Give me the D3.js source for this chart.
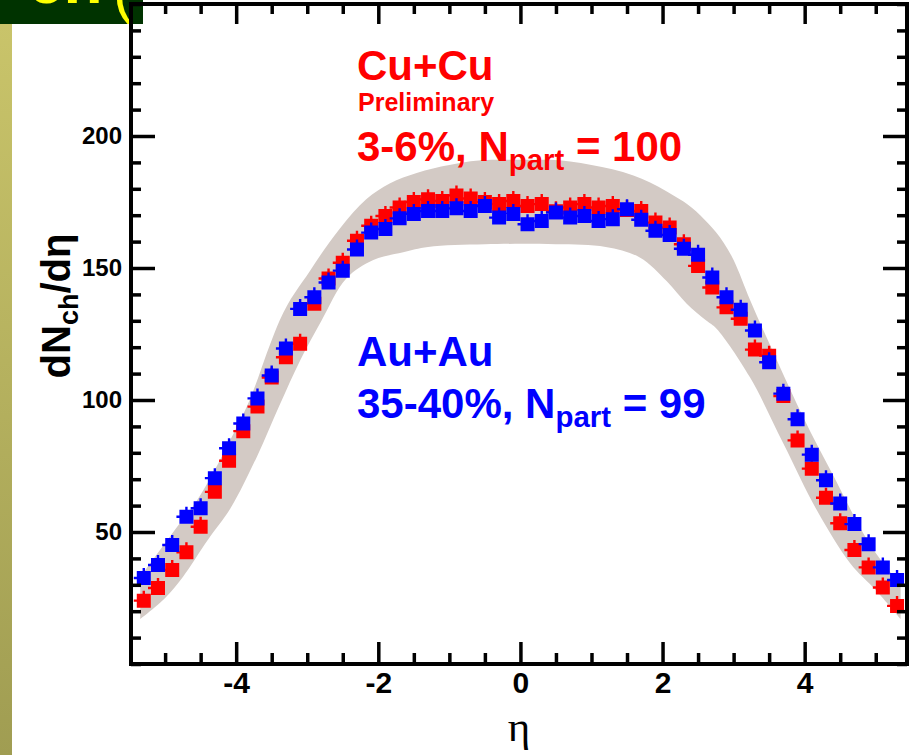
<!DOCTYPE html>
<html>
<head>
<meta charset="utf-8">
<script src="https://cdn.jsdelivr.net/npm/d3@7/dist/d3.min.js"></script>
<style>
  body { margin: 0; background: #fff; }
  svg { display: block; font-family: "Liberation Sans", Arial, sans-serif; }
</style>
</head>
<body>
<svg id="chart" width="916" height="755"></svg>
<script>
// pseudorapidity bins
const eta = [-5.3, -5.1, -4.9, -4.7, -4.5, -4.3, -4.1, -3.9, -3.7, -3.5, -3.3, -3.1, -2.9, -2.7,
  -2.5, -2.3, -2.1, -1.9, -1.7, -1.5, -1.3, -1.1, -0.9, -0.7, -0.5, -0.3, -0.1,
  0.1, 0.3, 0.5, 0.7, 0.9, 1.1, 1.3, 1.5, 1.7, 1.9, 2.1, 2.3, 2.5, 2.7, 2.9, 3.1,
  3.3, 3.5, 3.7, 3.9, 4.1, 4.3, 4.5, 4.7, 4.9, 5.1, 5.3];

// Cu+Cu 3-6% (red)
const cuCu = [24, 28.8, 35.6, 42.3, 52, 65.2, 77, 88.2, 97.5, 108.5, 116.2, 121.3, 136.5, 146,
  152, 160.3, 166, 169.7, 172.9, 175, 176, 175.4, 177.5, 176.3, 175, 174.2, 175.4,
  173.5, 174.2, 171.5, 172.9, 174.2, 172.9, 173.5, 172, 171.6, 167.2, 165.3, 159, 150.8, 142.6, 135.1, 130.8,
  119.1, 116.8, 101.5, 84.7, 74, 63, 53.3, 43.2, 36.6, 29, 22];

// Au+Au 35-40% (blue)
const auAu = [32.6, 37.5, 45.1, 55.8, 59, 70.4, 81.7, 91.1, 100.6, 109.3, 119.5, 134.5, 138.9, 144.5,
  149, 157, 163.4, 164.8, 168.8, 170.5, 171.6, 171.6, 172.6, 171.6, 173.5, 169.1, 170.5,
  166.6, 167.8, 171, 169.1, 169.7, 167.8, 168.5, 172.3, 168.3, 164.1, 162.5, 157.3, 155, 146.4, 138.9, 134.2,
  126.3, 114.3, 102.4, 92.7, 79.3, 69.6, 60.8, 53, 45.4, 36.6, 31.8];

// systematic band, outer edge and inner edge
const bandUpEta = [-5.35, -4.83, -4.55, -4.08, -3.81, -3.51, -3.39, -2.96, -2.54, -2.17, -1.84, -1.46, -1.0, -0.4,
  0.4, 1.0, 1.59, 2.06, 2.53, 3.0, 3.23, 3.61, 3.98, 4.41, 4.88, 5.35];
const bandUp = [33, 52, 62, 85, 100, 122, 130, 149, 165, 176, 182, 186, 189, 191,
  191, 189, 185, 179, 170, 153, 138, 115, 93.5, 71, 47, 30];
const bandLoEta = [-5.35, -5.0, -4.75, -4.4, -4.08, -3.7, -3.39, -3.1, -2.8, -2.45, -2.07, -1.65, -1.3, -0.5,
  0.5, 1.2, 1.68, 2.06, 2.34, 2.62, 2.76, 3.23, 3.7, 4.17, 4.64, 5.0, 5.35];
const bandLo = [17, 25, 33, 47, 59, 79, 98, 115, 130, 146, 153, 156, 158, 159,
  159, 158, 154, 145, 136.5, 130, 127, 108.6, 83.5, 58.3, 38.2, 28, 17];

const yMajor = [50, 100, 150, 200];
const xMajor = [-4, -2, 0, 2, 4];

const svg = d3.select('#chart');

// slide background bits
const grad = svg.append('defs').append('linearGradient')
  .attr('id', 'strip').attr('x1', 0).attr('y1', 0).attr('x2', 0).attr('y2', 1);
grad.append('stop').attr('offset', '0%').attr('stop-color', '#c9c46a');
grad.append('stop').attr('offset', '100%').attr('stop-color', '#a09d52');
svg.append('rect').attr('x', 0).attr('y', 24).attr('width', 12).attr('height', 731).attr('fill', 'url(#strip)');

svg.append('clipPath').attr('id', 'corner')
  .append('rect').attr('x', 0).attr('y', 0).attr('width', 143).attr('height', 24);
const corner = svg.append('g').attr('clip-path', 'url(#corner)');
corner.append('rect').attr('width', 143).attr('height', 24).attr('fill', '#003300');
corner.append('text').attr('x', 28).attr('y', 3).attr('font-size', 64).attr('font-weight', 'bold')
  .attr('fill', '#ffff00').text('ch');
corner.append('text').attr('x', 113).attr('y', 12).attr('font-size', 60)
  .attr('fill', '#ffff00').text('(');

const x = d3.scaleLinear().domain([-5.48, 5.44]).range([131, 907]);
const y = d3.scaleLinear().domain([0, 250]).range([664, 4]);

// band
const edge = d3.line().x(d => x(d[0])).y(d => y(d[1])).curve(d3.curveMonotoneX);
const up = bandUpEta.map((e, i) => [e, bandUp[i]]);
const lo = bandLoEta.map((e, i) => [e, bandLo[i]]);
const loPath = d3.line().x(d => x(d[0])).y(d => y(d[1])).curve(d3.curveCatmullRom)(lo.slice().reverse());
svg.append('path')
  .attr('d', edge(up) + 'L' + loPath.slice(1) + 'Z')
  .attr('fill', '#d3cac5');

// markers: square with small error-bar stubs on top and left
const marker = s => {
  const h = s / 2;
  return `M${-h},${-h}H${h}V${h}H${-h}Z` +
    `M-1.2,${-h - 3}H1.2V${-h}H-1.2Z` +
    `M${-h - 3},-1.2H${-h}V1.2H${-h - 3}Z`;
};

const drawSeries = (vals, color) => {
  svg.append('g').selectAll('path')
    .data(vals)
    .join('path')
    .attr('transform', (d, i) => `translate(${x(eta[i])},${y(d)})`)
    .attr('d', marker(14))
    .attr('fill', color);
};
drawSeries(cuCu, '#ff0000');
drawSeries(auAu, '#0000ff');

// axes, ticks pointing inwards
const styleAxis = g => {
  g.select('.domain').remove();
  g.selectAll('line').attr('stroke', '#000').attr('stroke-width', 3.5);
  g.selectAll('text').attr('font-weight', 'bold').attr('fill', '#000')
    .attr('font-family', '"Liberation Sans", Arial, sans-serif');
};

const yMinor = d3.range(0, 251, 10).filter(v => !yMajor.includes(v));
const xMinor = d3.range(-5, 5.01, 0.5).filter(v => !xMajor.includes(v));

svg.append('g').attr('transform', 'translate(131,0)')
  .call(d3.axisLeft(y).tickValues(yMajor).tickSize(-24).tickPadding(9).tickFormat(d => String(d)))
  .call(styleAxis).selectAll('text').attr('font-size', 24);
svg.append('g').attr('transform', 'translate(131,0)')
  .call(d3.axisLeft(y).tickValues(yMinor).tickSize(-10).tickFormat(''))
  .call(styleAxis);
svg.append('g').attr('transform', 'translate(907,0)')
  .call(d3.axisRight(y).tickValues(yMajor).tickSize(-24).tickFormat(''))
  .call(styleAxis);
svg.append('g').attr('transform', 'translate(907,0)')
  .call(d3.axisRight(y).tickValues(yMinor).tickSize(-10).tickFormat(''))
  .call(styleAxis);

svg.append('g').attr('transform', 'translate(0,664)')
  .call(d3.axisBottom(x).tickValues(xMajor).tickSize(-22).tickPadding(8).tickFormat(d => String(d)))
  .call(styleAxis).selectAll('text').attr('font-size', 30);
svg.append('g').attr('transform', 'translate(0,664)')
  .call(d3.axisBottom(x).tickValues(xMinor).tickSize(-11).tickFormat(''))
  .call(styleAxis);
svg.append('g').attr('transform', 'translate(0,4)')
  .call(d3.axisTop(x).tickValues(xMajor).tickSize(-20).tickFormat(''))
  .call(styleAxis);
svg.append('g').attr('transform', 'translate(0,4)')
  .call(d3.axisTop(x).tickValues(xMinor).tickSize(-10).tickFormat(''))
  .call(styleAxis);

// frame
svg.append('rect')
  .attr('x', 131).attr('y', 4).attr('width', 776).attr('height', 660)
  .attr('fill', 'none').attr('stroke', '#000').attr('stroke-width', 4);

// axis titles
const yTitle = svg.append('text')
  .attr('transform', 'translate(70,306) rotate(-90)')
  .attr('text-anchor', 'middle').attr('font-weight', 'bold').attr('font-size', 40);
yTitle.append('tspan').text('dN');
yTitle.append('tspan').attr('font-size', 27).attr('dy', 8).text('ch');
yTitle.append('tspan').attr('dy', -8).text('/d\u03b7');

svg.append('text')
  .attr('x', 519).attr('y', 741).attr('text-anchor', 'middle')
  .attr('font-family', '"Liberation Serif", serif').attr('font-size', 43)
  .text('\u03b7');

// annotations
const label = (tx, ty, color, size, parts) => {
  const t = svg.append('text').attr('x', tx).attr('y', ty)
    .attr('fill', color).attr('font-weight', 'bold').attr('font-size', size);
  parts.forEach(p => {
    const s = t.append('tspan').text(p.text);
    if (p.sub) s.attr('font-size', size * 0.7).attr('dy', 9);
    if (p.after) s.attr('dy', -9);
  });
};

label(357, 80, '#ff0000', 42, [{ text: 'Cu+Cu' }]);
label(358, 111, '#ff0000', 25, [{ text: 'Preliminary' }]);
label(357, 161, '#ff0000', 42, [{ text: '3-6%, N' }, { text: 'part', sub: true }, { text: ' = 100', after: true }]);
label(357, 366, '#0000ff', 42, [{ text: 'Au+Au' }]);
label(357, 418, '#0000ff', 42, [{ text: '35-40%, N' }, { text: 'part', sub: true }, { text: ' = 99', after: true }]);
</script>
</body>
</html>
